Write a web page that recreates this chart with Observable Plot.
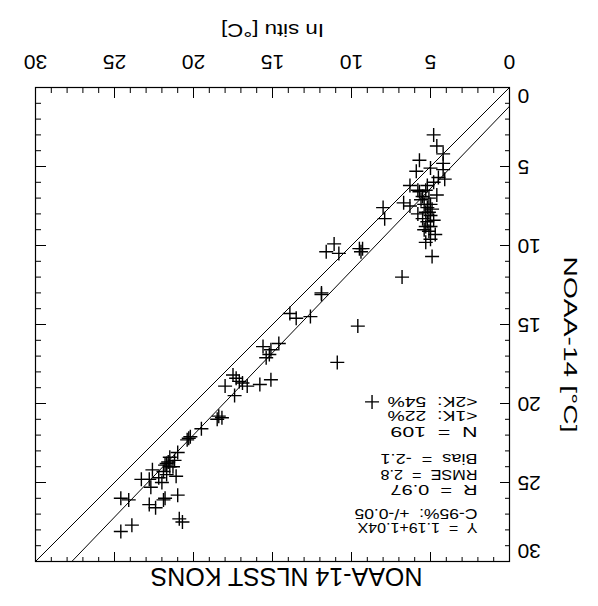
<!DOCTYPE html>
<html><head><meta charset="utf-8">
<script src="https://cdn.jsdelivr.net/npm/d3@7"></script>
<script src="https://cdn.jsdelivr.net/npm/@observablehq/plot@0.6"></script>
<style>
html,body{margin:0;padding:0;background:#fff;overflow:hidden}
#chart{width:598px;height:606px;transform:rotate(180deg);transform-origin:50% 50%}
#chart svg{white-space:pre}
</style></head><body><div id="chart"></div>
<script>
// In situ temperature (x) and NOAA-14 NLSST (y), degrees C
const insituX = [4.8,4.6,4.2,5.7,4.2,4.2,5.0,5.9,4.5,4.1,4.8,6.3,5.8,5.3,5.5,5.1,6.7,6.3,5.0,5.2,5.3,5.1,5.5,5.2,5.3,5.0,5.1,5.0,5.3,4.9,8.0,7.9,4.9,5.4,5.7,4.8,4.6,5.6,5.0,5.4,4.7,5.8,5.2,
  11.1,11.6,10.8,9.5,9.3,9.4,6.8,11.9,11.9,13.9,13.5,12.6,9.6,14.6,15.6,15.1,15.2,15.4,10.9,17.5,17.3,18.0,16.9,16.6,15.8,15.1,17.4,8.7,18.4,17.1,
  18.5,18.2,19.5,20.3,20.2,20.4,21.0,21.6,21.7,21.8,21.5,21.9,21.3,21.7,21.1,22.6,23.3,22.8,22.7,21.0,24.6,24.1,21.8,21.9,22.8,22.4,20.9,20.7,24.6,23.9,21.5,22.2,21.2,22.0];
const noaaY = [3.0,3.7,4.2,4.6,4.8,5.2,5.1,5.3,5.7,5.8,6.0,6.2,6.5,6.5,6.9,7.0,7.3,7.5,7.4,7.6,7.9,7.9,8.3,8.5,8.8,8.8,9.1,9.6,9.8,10.7,7.6,8.3,7.7,9.0,6.6,8.4,6.8,7.1,8.1,7.4,9.3,8.0,6.2,
  9.9,10.4,10.5,10.2,10.2,10.4,12.0,13.0,13.1,14.3,14.6,14.5,15.1,16.2,16.4,16.6,16.9,17.1,17.4,18.2,18.4,18.9,18.7,18.9,18.8,18.5,19.5,19.9,20.8,18.6,
  21.0,20.9,21.6,22.2,22.1,22.3,23.1,23.7,23.8,23.9,24.0,24.3,24.0,24.5,24.6,24.2,24.8,24.8,25.3,25.8,26.0,26.1,26.0,26.1,26.4,26.6,27.3,27.5,28.1,27.7,23.4,24.7,23.6,25.0];

const majorTicks = [0,5,10,15,20,25,30];
const minorTicks = [1,2,3,4,6,7,8,9,11,12,13,14,16,17,18,19,21,22,23,24,26,27,28,29];
const axisDomain = [0,30];
const fitIntercept = 1.19;
const fitSlope = 1.04;

const titleText = "NOAA-14 NLSST KONS";
const xTitle = "In situ [°C]";
const yTitle = "NOAA-14 [°C]";
const statsLines = ["Y  =  1.19+1.04X","C-95%:  +/-0.05","R  =  0.97","RMSE  =  2.8","Bias  =  -2.1","N  =  109","<1K:  22%","<2K:  54%"];

// layout (pixels)
const statsDy = [29,43,67,82,98,125,141,155];
const statsWidth = [120,123,87,97,97,87,90,90];
const FONT = "'Liberation Sans', Arial, Helvetica, sans-serif";

const points = insituX.map((x,i)=>({x, y: noaaY[i]}));
const identity = axisDomain.map(v=>({x:v,y:v}));
const fitLine = [{x:axisDomain[0], y:fitIntercept+fitSlope*axisDomain[0]},
                 {x:(axisDomain[1]-fitIntercept)/fitSlope, y:axisDomain[1]}];

const cross = {draw(ctx, size){const r=Math.sqrt(size/Math.PI);ctx.moveTo(-r,0);ctx.lineTo(r,0);ctx.moveTo(0,-r);ctx.lineTo(0,r);}};

const frameSize = 474;
const tickMarks = (vals, len) => [
  Plot.tickX(vals, {x:d=>d, insetTop: frameSize-len, stroke:"black", strokeWidth:1}),
  Plot.tickX(vals, {x:d=>d, insetBottom: frameSize-len, stroke:"black", strokeWidth:1}),
  Plot.tickY(vals, {y:d=>d, insetRight: frameSize-len, stroke:"black", strokeWidth:1}),
  Plot.tickY(vals, {y:d=>d, insetLeft: frameSize-len, stroke:"black", strokeWidth:1})
];

const statsMarks = statsLines.map((t,i)=>
  Plot.text([t], {frameAnchor:"top-left", dx:32, dy:statsDy[i], text:d=>d, textAnchor:"start", fontSize:14}));

const yFirst = majorTicks[0], yLast = majorTicks[majorTicks.length-1];
const yInner = majorTicks.slice(1, -1);

const chart = Plot.plot({
  width: 598, height: 606,
  marginLeft: 88, marginRight: 36, marginTop: 44, marginBottom: 88,
  x: {domain: axisDomain, axis: null},
  y: {domain: axisDomain, axis: null},
  style: {fontFamily: FONT, background: "white", color: "black"},
  marks: [
    Plot.line(identity, {x:"x", y:"y", stroke:"black", strokeWidth:1}),
    Plot.line(fitLine, {x:"x", y:"y", stroke:"black", strokeWidth:1}),
    Plot.dot(points, {x:"x", y:"y", symbol: cross, r: 7, stroke:"black", fill:"none", strokeWidth:1.4}),
    ...tickMarks(majorTicks, 10),
    ...tickMarks(minorTicks, 5),
    Plot.frame({stroke:"black", strokeWidth:1.2}),
    Plot.text(majorTicks, {x:d=>d, frameAnchor:"bottom", dy:33, text:d=>String(d), fontSize:21}),
    Plot.text(yInner, {y:d=>d, frameAnchor:"left", dx:-8, textAnchor:"end", text:d=>String(d), fontSize:21}),
    Plot.text([yFirst], {y:d=>d, frameAnchor:"left", dx:-8, dy:-8, textAnchor:"end", text:d=>String(d), fontSize:21}),
    Plot.text([yLast], {y:d=>d, frameAnchor:"left", dx:-8, dy:11, textAnchor:"end", text:d=>String(d), fontSize:21}),
    Plot.text([xTitle], {frameAnchor:"bottom", dy:64, text:d=>d, textAnchor:"middle", fontSize:19}),
    Plot.text([yTitle], {frameAnchor:"left", dx:-60, dy:-20, rotate:-90, text:d=>d, textAnchor:"middle", fontSize:18}),
    Plot.text([titleText], {frameAnchor:"top", dx:-14, dy:-24, text:d=>d, textAnchor:"middle", fontSize:25}),
    ...statsMarks
  ]
});

// stretch wide-set labels to the reference's text widths
const stretch = (txt, w) => d3.select(chart).selectAll("text")
  .filter(function(){ return this.textContent === txt; })
  .attr("textLength", w).attr("lengthAdjust", "spacingAndGlyphs");
stretch(yTitle, 176);
stretch(xTitle, 103);
statsLines.forEach((t,i)=>stretch(t, statsWidth[i]));

document.getElementById("chart").appendChild(chart);
</script></body></html>
